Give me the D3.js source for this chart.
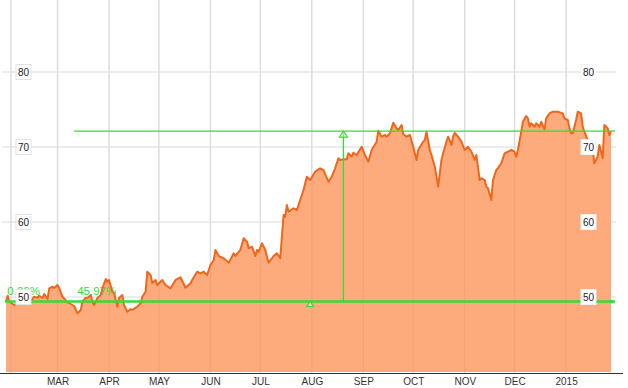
<!DOCTYPE html>
<html>
<head>
<meta charset="utf-8">
<script src="https://cdn.jsdelivr.net/npm/d3@7"></script>
<style>
  html, body { margin: 0; padding: 0; background: #fff; }
  svg { display: block; font-family: Arial, "Liberation Sans", sans-serif; }
</style>
</head>
<body>
<svg id="chart" width="628" height="388"></svg>
<script>
// ---------- data ----------
const startDate = "2014-01-29";
const endDate = "2015-01-28";
const dayOffsets = [0,1,2,5,7,10,13,15,17,19,20,22,23,25,26,28,29,31,32,34,37,38,41,43,45,46,48,49,51,52,53,55,57,58,60,61,62,64,65,67,68,70,71,73,75,76,79,81,82,84,85,87,88,90,91,94,96,99,102,105,108,111,112,115,117,119,121,123,125,126,128,131,134,137,138,141,143,145,146,148,150,151,152,154,156,158,161,163,165,167,168,169,170,173,175,177,179,181,183,186,189,191,194,196,198,200,201,203,205,206,208,209,211,214,216,218,220,223,224,226,228,229,231,233,235,236,238,239,241,243,245,247,248,251,252,253,255,256,258,259,260,262,263,265,266,268,269,270,272,274,276,278,280,282,283,285,286,288,289,290,292,293,295,296,298,300,302,304,306,307,308,310,311,313,314,315,316,318,319,321,322,324,325,327,329,332,335,336,338,339,340,341,343,344,346,347,348,350,351,353,354,356,357,359,360,362,363,364];
const prices = [49.4,50.17,49.37,48.93,49.2,49.37,49.6,49.5,50.04,49.9,50.17,49.87,50.4,49.73,51.16,51.37,51.2,51.6,51.2,50.04,49.3,49.2,48.8,47.83,48.27,49.37,49.9,49.87,50.27,49.37,48.93,49.87,50.27,51.16,52.4,52.04,52.27,50.7,50.53,48.71,49.87,50.27,48.93,48.04,48.4,48.27,48.71,49.16,50.04,50.7,53.37,52.93,51.87,52.27,51.6,52.27,51.6,51.16,52.27,52.63,51.24,51.83,52.27,53.37,53.16,53.37,52.93,54.27,54.93,56.27,55.47,55.16,54.57,55.83,55.47,56.27,57.83,57.37,56.49,56.71,55.47,56.27,56.04,57.16,56.27,54.57,55.47,55.83,55.16,60.93,60.71,62.27,61.37,61.83,61.6,62.93,64.27,66.04,65.6,66.71,67.16,66.93,65.37,66.04,67.16,68.49,68.27,68.36,68.36,69.16,68.71,69.24,68.93,70.04,68.93,68.04,69.6,70.71,72.17,71.37,71.6,71.37,71.83,73.24,72.49,72.27,72.93,71.73,71.37,71.6,70.04,68.27,69.6,70.71,70.93,72.04,69.6,68.93,67.37,66.04,64.71,68.27,69.16,70.71,71.37,70.27,71.37,71.87,71.37,70.71,69.6,70.04,69.37,68.27,68.93,65.6,65.83,65.6,64.71,64.49,62.93,65.6,66.93,67.16,67.83,69.16,69.37,69.6,69.37,68.71,69.6,72.04,73.37,74.13,73.83,72.71,73.16,72.71,73.16,72.71,73.37,72.36,73.83,74.49,74.71,74.71,74.49,73.83,73.6,72.49,71.83,71.83,73.6,74.71,74.49,72.71,72.04,70.93,70.27,69.6,67.83,68.71,70.27,68.49,72.93,72.49,71.6,72.13];
const monthStarts = ["2014-02-01","2014-03-01","2014-04-01","2014-05-01","2014-06-01","2014-07-01","2014-08-01","2014-09-01","2014-10-01","2014-11-01","2014-12-01","2015-01-01"];
const monthLabels = ["","MAR","APR","MAY","JUN","JUL","AUG","SEP","OCT","NOV","DEC","2015"];
const yTicks = [50, 60, 70, 80];
const changeLabels = ["0.00%", "45.97%"];
const changeLabelDays = [-1, 41];    // day offsets where the % labels sit
const measureDay = 203;              // vertical measuring line
const upperLineStartDay = 41;
const baseMarkerDay = 183;

// ---------- setup ----------
const parse = d3.timeParse("%Y-%m-%d");
const t0 = parse(startDate);
const data = dayOffsets.map((d, i) => ({ date: d3.timeDay.offset(t0, d), value: prices[i] }));
const dayDate = d => d3.timeDay.offset(t0, d);

const svg = d3.select("#chart");
const x = d3.scaleTime().domain([t0, parse(endDate)]).range([6, 611]);
const y = d3.scaleLinear().domain([40, 80]).range([372, 72]);

const gridColor = "#e6e6e6";
const green = "#33dd33";
const areaColor = "#fdab7c";
const baseVal = prices[0];
const lastVal = prices[prices.length - 1];

// gridlines below
const gGrid = svg.append("g");
gGrid.selectAll("line.v").data(monthStarts).join("line")
  .attr("x1", d => x(parse(d))).attr("x2", d => x(parse(d)))
  .attr("y1", 0).attr("y2", 373)
  .attr("stroke", gridColor).attr("stroke-width", 1.5);
gGrid.selectAll("line.h").data(yTicks).join("line")
  .attr("x1", 2).attr("x2", 616)
  .attr("y1", d => y(d)).attr("y2", d => y(d))
  .attr("stroke", gridColor).attr("stroke-width", 1.5);

// area
const area = d3.area().x(d => x(d.date)).y0(y(40)).y1(d => y(d.value));
svg.append("path").datum(data).attr("d", area).attr("fill", areaColor);

// gridlines showing through area
const gGrid2 = svg.append("g");
gGrid2.selectAll("line").data(monthStarts).join("line")
  .attr("x1", d => x(parse(d))).attr("x2", d => x(parse(d)))
  .attr("y1", 0).attr("y2", 373)
  .attr("stroke", "#000").attr("stroke-opacity", 0.04).attr("stroke-width", 1.5);

// percentage labels
svg.selectAll("text.pct").data(changeLabels).join("text")
  .attr("class", "pct")
  .attr("x", (d, i) => x(dayDate(changeLabelDays[i])) + 3)
  .attr("y", 295)
  .attr("fill", green)
  .attr("font-size", "11.5px")
  .text(d => d);

// price line
const line = d3.line().x(d => x(d.date)).y(d => y(d.value));
svg.append("path").datum(data).attr("d", line)
  .attr("fill", "none").attr("stroke", "#f0661a").attr("stroke-width", 2)
  .attr("stroke-linejoin", "round");

// green measurement lines
svg.append("line")
  .attr("x1", x(t0) - 1).attr("x2", 615)
  .attr("y1", y(baseVal)).attr("y2", y(baseVal))
  .attr("stroke", green).attr("stroke-width", 2.5);
svg.append("line")
  .attr("x1", x(dayDate(upperLineStartDay))).attr("x2", 615)
  .attr("y1", y(lastVal)).attr("y2", y(lastVal))
  .attr("stroke", green).attr("stroke-width", 1.3);
const mx = x(dayDate(measureDay));
svg.append("line")
  .attr("x1", mx).attr("x2", mx)
  .attr("y1", y(lastVal)).attr("y2", y(baseVal))
  .attr("stroke", green).attr("stroke-width", 1.3);
// arrow head (open triangle) at top
const ty = y(lastVal);
svg.append("path")
  .attr("d", `M${mx},${ty} L${mx - 4},${ty + 6} L${mx + 4},${ty + 6} Z`)
  .attr("fill", "#fff").attr("fill-opacity", 0.4).attr("stroke", green).attr("stroke-width", 1.2);
// small triangle marker on base line
const bx = x(dayDate(baseMarkerDay));
const by = y(baseVal);
svg.append("path")
  .attr("d", `M${bx},${by} L${bx - 3.5},${by + 5} L${bx + 3.5},${by + 5} Z`)
  .attr("fill", "#fff").attr("fill-opacity", 0.4).attr("stroke", green).attr("stroke-width", 1.2);
// tiny arrow at right end of base line
svg.append("path")
  .attr("d", `M615,${by} L610,${by - 2} L610,${by + 2} Z`)
  .attr("fill", green);

// bottom axis
const xAxis = d3.axisBottom(x)
  .tickValues(monthStarts.map(parse))
  .tickSize(0)
  .tickFormat((d, i) => monthLabels[i]);
const gx = svg.append("g").attr("transform", "translate(0,373)").call(xAxis);
gx.select(".domain").remove();
gx.selectAll("text").attr("font-size", "10px").attr("fill", "#333")
  .attr("font-family", "Arial, 'Liberation Sans', sans-serif")
  .attr("dy", null).attr("y", 12);
svg.append("line").attr("x1", 0).attr("x2", 623).attr("y1", 373.5).attr("y2", 373.5)
  .attr("stroke", "#333").attr("stroke-width", 1);

// y labels (boxes)
function yLabels(xc, bordered) {
  const g = svg.append("g");
  const items = g.selectAll("g").data(yTicks).join("g")
    .attr("transform", d => `translate(${xc},${y(d)})`);
  items.append("rect")
    .attr("x", -7.5).attr("y", -7.5).attr("width", 15).attr("height", 15)
    .attr("fill", "#fff")
    .attr("stroke", bordered ? "#e2e2e2" : "#f2f2f2").attr("stroke-width", 1);
  items.append("text")
    .attr("text-anchor", "middle").attr("dy", "0.35em")
    .attr("font-size", "10px").attr("fill", "#222")
    .text(d => d);
}
yLabels(23.5, true);
yLabels(588.5, false);
</script>
</body>
</html>
